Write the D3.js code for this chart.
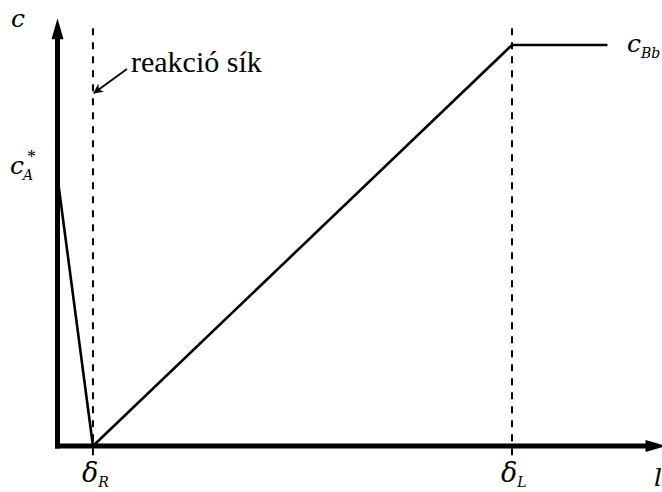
<!DOCTYPE html>
<html>
<head>
<meta charset="utf-8">
<script src="https://cdn.jsdelivr.net/npm/d3@7"></script>
<style>
  html, body { margin: 0; padding: 0; background: #fff; }
  svg { display: block; }
</style>
</head>
<body>
<svg id="chart" width="662" height="492"></svg>
<script>
// Concentration profile across the film: distance from the interface (l) vs. concentration (c)
const profileX = [0, 0.078, 1, 1.21];      // interface, reaction plane δR, film edge δL, bulk
const profileC = [0.67, 0, 1, 1];          // c_A* at interface, zero at δR, c_Bb from δL on
const markX = [0.078, 1];                  // dashed guide lines
const markLabels = [["δ", "R"], ["δ", "L"]];
const axisMaxX = 1.34;
const axisMaxY = 1.067;

const TEXT_FONT = "Liberation Serif";      // upright text
const MATH_FONT = "DejaVu Serif";          // italic symbols

const svg = d3.select("#chart");
const x = d3.scaleLinear().domain([0, 1]).range([57.5, 512]);
const y = d3.scaleLinear().domain([0, 1]).range([446, 45]);

function label(px, py, size, italic) {
  return svg.append("text")
    .attr("x", px).attr("y", py)
    .style("font-family", italic ? MATH_FONT : TEXT_FONT)
    .style("font-size", size + "px")
    .style("font-style", italic ? "italic" : "normal")
    .attr("fill", "#000");
}

// dashed guide lines at δR and δL
svg.selectAll("line.guide")
  .data(markX)
  .join("line")
  .attr("class", "guide")
  .attr("x1", d => x(d)).attr("x2", d => x(d))
  .attr("y1", y(axisMaxY) + 10).attr("y2", y(0) + 11)
  .attr("stroke", "#000")
  .attr("stroke-width", 2)
  .attr("stroke-dasharray", "7,7");

// concentration profile
const line = d3.line().x((d, i) => x(profileX[i])).y(d => y(d));
svg.append("path")
  .datum(profileC)
  .attr("d", line)
  .attr("fill", "none")
  .attr("stroke", "#000")
  .attr("stroke-width", 2.6)
  .attr("stroke-linejoin", "miter");

// axes with arrowheads
const x0 = x(0), y0 = y(0);
svg.append("line")
  .attr("x1", x0).attr("x2", x0)
  .attr("y1", y0 + 2.5).attr("y2", y(axisMaxY) + 14)
  .attr("stroke", "#000").attr("stroke-width", 5);
svg.append("path")
  .attr("d", d3.line()([[x0, y(axisMaxY)], [x0 - 6, y(axisMaxY) + 21], [x0 + 6, y(axisMaxY) + 21]]) + "Z")
  .attr("fill", "#000");
svg.append("line")
  .attr("x1", x0 - 2.5).attr("x2", x(axisMaxX) - 14)
  .attr("y1", y0).attr("y2", y0)
  .attr("stroke", "#000").attr("stroke-width", 5);
svg.append("path")
  .attr("d", d3.line()([[x(axisMaxX), y0], [x(axisMaxX) - 21, y0 - 6], [x(axisMaxX) - 21, y0 + 6]]) + "Z")
  .attr("fill", "#000");

// axis titles
label(11, 27, 25, true).text("c");
label(654, 486, 25, true).text("l");

// δ labels under the guides
markX.forEach((m, i) => {
  const t = label(x(m) - 11, 482, 27, true);
  t.append("tspan").text(markLabels[i][0]);
  t.append("tspan").style("font-size", "14px").attr("dy", 5).text(markLabels[i][1]);
});

// c_A* at the interface
const ca = label(10, y(profileC[0]) - 3, 25, true);
ca.append("tspan").text("c");
ca.append("tspan").style("font-size", "14px").attr("dy", 6).attr("dx", -1).text("A");
label(27, y(profileC[0]) - 14, 18, false).text("*");

// c_Bb at the bulk
const cb = label(627, y(profileC[3]) + 7, 25, true);
cb.append("tspan").text("c");
cb.append("tspan").style("font-size", "14px").attr("dy", 6).text("Bb");

// reaction plane annotation
svg.append("defs").append("marker")
  .attr("id", "head").attr("viewBox", "0 0 10 10")
  .attr("refX", 9).attr("refY", 5)
  .attr("markerWidth", 10).attr("markerHeight", 10)
  .attr("markerUnits", "userSpaceOnUse")
  .attr("orient", "auto")
  .append("path").attr("d", "M0,0L10,5L0,10L3,5Z").attr("fill", "#000");
svg.append("line")
  .attr("x1", 127).attr("y1", 69)
  .attr("x2", x(markX[0]) + 1).attr("y2", 93)
  .attr("stroke", "#000").attr("stroke-width", 1.8)
  .attr("marker-end", "url(#head)");
label(131, 72, 30, false).text("reakció sík");
</script>
</body>
</html>
